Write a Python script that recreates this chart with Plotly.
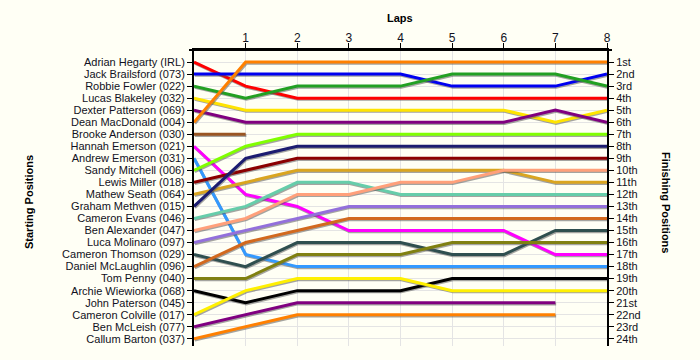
import plotly.graph_objects as go

laps = [0, 1, 2, 3, 4, 5, 6, 7, 8]

drivers = [
    "Adrian Hegarty (IRL)", "Jack Brailsford (073)", "Robbie Fowler (022)",
    "Lucas Blakeley (032)", "Dexter Patterson (069)", "Dean MacDonald (004)",
    "Brooke Anderson (030)", "Hannah Emerson (021)", "Andrew Emerson (031)",
    "Sandy Mitchell (006)", "Lewis Miller (018)", "Mathew Seath (064)",
    "Graham Methven (015)", "Cameron Evans (046)", "Ben Alexander (047)",
    "Luca Molinaro (097)", "Cameron Thomson (029)", "Daniel McLaughlin (096)",
    "Tom Penny (040)", "Archie Wiewiorka (068)", "John Paterson (045)",
    "Cameron Colville (017)", "Ben McLeish (077)", "Callum Barton (037)",
]

finish_labels = ["1st", "2nd", "3rd", "4th", "5th", "6th", "7th", "8th", "9th",
                 "10th", "11th", "12th", "13th", "14th", "15th", "16th", "17th",
                 "18th", "19th", "20th", "21st", "22nd", "23rd", "24th"]

# position per lap for each driver (lap 0 = starting position)
pos_hegarty = [1, 3, 4, 4, 4, 4, 4, 4, 4]
pos_brailsford = [2, 2, 2, 2, 2, 3, 3, 3, 2]
pos_fowler = [3, 4, 3, 3, 3, 2, 2, 2, 3]
pos_blakeley = [4, 5, 5, 5, 5, 5, 5, 6, 5]
pos_patterson = [5, 6, 6, 6, 6, 6, 6, 5, 6]
pos_macdonald = [6, 1, 1, 1, 1, 1, 1, 1, 1]
pos_anderson = [7, 7]
pos_h_emerson = [8, 12, 13, 15, 15, 15, 15, 17, 17]
pos_a_emerson = [9, 17, 18, 18, 18, 18, 18, 18, 18]
pos_mitchell = [10, 8, 7, 7, 7, 7, 7, 7, 7]
pos_miller = [11, 10, 9, 9, 9, 9, 9, 9, 9]
pos_seath = [12, 11, 10, 10, 10, 10, 10, 11, 11]
pos_methven = [13, 9, 8, 8, 8, 8, 8, 8, 8]
pos_evans = [14, 13, 11, 11, 12, 12, 12, 12, 12]
pos_alexander = [15, 14, 12, 12, 11, 11, 10, 10, 10]
pos_molinaro = [16, 15, 14, 13, 13, 13, 13, 13, 13]
pos_thomson = [17, 18, 16, 16, 16, 17, 17, 15, 15]
pos_mclaughlin = [18, 16, 15, 14, 14, 14, 14, 14, 14]
pos_penny = [19, 19, 17, 17, 17, 16, 16, 16, 16]
pos_wiewiorka = [20, 21, 20, 20, 20, 19, 19, 19, 19]
pos_paterson = []
pos_colville = [22, 20, 19, 19, 19, 20, 20, 20, 20]
pos_mcleish = [23, 22, 21, 21, 21, 21, 21, 21]
pos_barton = [24, 23, 22, 22, 22, 22, 22, 22]

series = [
    pos_hegarty, pos_brailsford, pos_fowler, pos_blakeley, pos_patterson,
    pos_macdonald, pos_anderson, pos_h_emerson, pos_a_emerson, pos_mitchell,
    pos_miller, pos_seath, pos_methven, pos_evans, pos_alexander, pos_molinaro,
    pos_thomson, pos_mclaughlin, pos_penny, pos_wiewiorka, pos_paterson,
    pos_colville, pos_mcleish, pos_barton,
]

colors = [
    "#FF0000", "#0000F0", "#22A022", "#FFE400", "#800080", "#FF8000",
    "#995522", "#FF00FF", "#3399FF", "#80FF00", "#8B0000", "#DAA520",
    "#1C1C70", "#66CDAA", "#FFA07A", "#9370DB", "#2F4F4F", "#D2691E",
    "#808010", "#000000", "#888888", "#FFF000", "#800080", "#FF8000",
]

BG = "#FFFFF5"
fig = go.Figure()

for name, ys, col in zip(drivers, series, colors):
    if not ys:
        continue
    xs = laps[:len(ys)]
    fig.add_trace(go.Scatter(
        x=[v + 0.015 for v in xs], y=[v + 0.1 for v in ys], mode="lines",
        line=dict(color="rgba(90,90,90,0.55)", width=3),
        hoverinfo="skip", showlegend=False))
    fig.add_trace(go.Scatter(
        x=xs, y=ys, mode="lines", name=name,
        line=dict(color=col, width=3), showlegend=False))

# invisible trace to carry the right-hand axis
fig.add_trace(go.Scatter(x=[0, 8], y=[1, 24], yaxis="y2", mode="lines",
                         line=dict(color="rgba(0,0,0,0)"), hoverinfo="skip",
                         showlegend=False))

yrange = [24.6, 0]
font = dict(family="Liberation Sans, Arial, sans-serif", size=11, color="#111122")

ML, MR, MT, MB = 194, 93, 50, 14

fig.update_layout(
    width=700, height=360,
    margin=dict(l=ML, r=MR, t=MT, b=MB, autoexpand=False),
    paper_bgcolor=BG, plot_bgcolor=BG,
    font=font,
    xaxis=dict(
        side="top", range=[0, 8], tickvals=laps[1:], ticktext=[str(v) for v in laps[1:]],
        showline=True, linecolor="black", linewidth=2, ticks="outside",
        ticklen=5, tickcolor="black", showgrid=True, gridcolor="#E4E4E4",
        zeroline=False, tickfont=dict(size=12), automargin=False,
        ticklabelstandoff=-4,
    ),
    yaxis=dict(
        range=yrange, tickvals=list(range(1, 25)), ticktext=drivers,
        showline=True, linecolor="black", linewidth=2, ticks="outside",
        ticklen=5, tickcolor="black", showgrid=True, gridcolor="#E4E4E4",
        zeroline=False, tickfont=font, automargin=False,
    ),
    yaxis2=dict(
        range=yrange, tickvals=list(range(1, 25)), ticktext=finish_labels,
        overlaying="y", side="right", showline=True, linecolor="black",
        linewidth=2, ticks="outside", ticklen=5, tickcolor="black",
        showgrid=False, zeroline=False, tickfont=font, automargin=False,
    ),
)

pw = 700 - ML - MR
ph = 360 - MT - MB
def px(xp):
    return (xp - ML) / pw
def py(yp):
    return 1 - (yp - MT) / ph

fig.update_layout(
    annotations=[
        dict(text="<b>Laps</b>", x=px(400), y=py(18), xref="paper", yref="paper",
             xanchor="center", yanchor="middle", showarrow=False,
             font=dict(size=11, color="black")),
        dict(text="<b>Starting Positions</b>", x=px(29), y=py(202), xref="paper",
             yref="paper", xanchor="center", yanchor="middle", showarrow=False,
             textangle=-90, font=dict(size=11, color="black")),
        dict(text="<b>Finishing Positions</b>", x=px(666), y=py(202), xref="paper",
             yref="paper", xanchor="center", yanchor="middle", showarrow=False,
             textangle=90, font=dict(size=11, color="black")),
    ],
    shapes=[
        dict(type="line", xref="paper", yref="paper", x0=px(189), x1=px(612),
             y0=1, y1=1, line=dict(color="black", width=2)),
    ],
)

fig.write_html("out.html", config={"displayModeBar": False},
               post_script="document.body.style.margin='0';document.body.style.overflow='hidden';")
